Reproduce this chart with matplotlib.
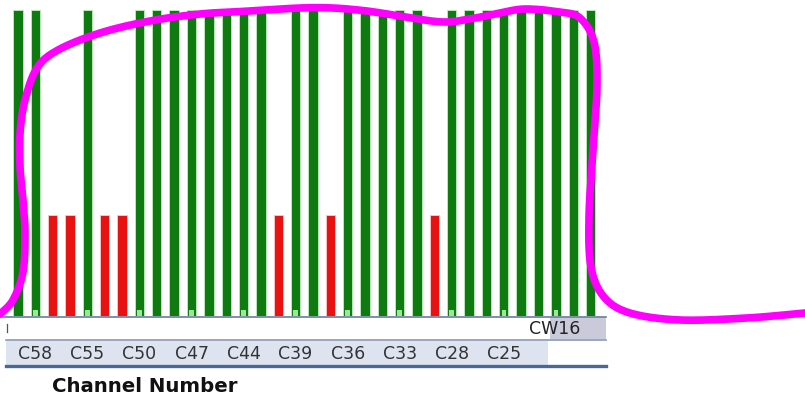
import numpy as np
import matplotlib
matplotlib.use("Agg")
import matplotlib.pyplot as plt
from matplotlib.patches import Rectangle

# Per-channel signal level (100 = locked, 33 = weak), left to right
signal = [100, 100, 33, 33, 100, 33, 33, 100, 100, 100, 100, 100, 100, 100,
          100, 33, 100, 100, 33, 100, 100, 100, 100, 100, 33, 100, 100, 100,
          100, 100, 100, 100, 100, 100]
# Channel names shown under every third bar, starting at the second one
channel_labels = ["C58", "C55", "C50", "C47", "C44", "C39", "C36", "C33", "C28", "C25"]
week_label = "CW16"
axis_title = "Channel Number"

GREEN = "#0f7a0f"
RED = "#e81212"
TICK_GREEN = "#9be69b"

W, H = 805, 398
fig = plt.figure(figsize=(W / 100, H / 100), dpi=100)
fig.patch.set_facecolor("white")

# Bar area (pixel layout: x 0..606, baseline at y=316)
ax = fig.add_axes([0, (H - 316) / H, 606 / W, 316 / H])
x = np.arange(len(signal))
colors = [GREEN if v >= 50 else RED for v in signal]
halo = ["#bfeebf" if v >= 50 else "#ffc8c8" for v in signal]
ax.bar(x, signal, width=0.54, color=colors, edgecolor=halo, linewidth=0.6, zorder=2)

# small light markers at the foot of every third bar
mark_idx = np.arange(1, len(signal), 3)
ax.bar(mark_idx, [1.8] * len(mark_idx), width=0.26, color=TICK_GREEN, zorder=3, linewidth=0)

step = 17.35
ax.set_xlim(-18 / step, (606 - 18) / step)
ax.set_ylim(0, 100 * 316 / 306)
ax.axis("off")

# Overlay in pixel coordinates for the scale bands and the marker loop
ov = fig.add_axes([0, 0, 1, 1], facecolor="none")
ov.set_xlim(0, W)
ov.set_ylim(H, 0)
ov.axis("off")

# baseline
ov.plot([0, 606], [316.5, 316.5], color="#6a7d9c", lw=1.2, zorder=2)
# week band
ov.add_patch(Rectangle((550, 317), 56, 22, facecolor="#c9cbdb", edgecolor="none", zorder=1))
ov.text(555, 329, week_label, ha="center", va="center", fontsize=12.5, color="#222222",
        family="DejaVu Sans", zorder=3)
ov.plot([6.5, 6.5], [324, 332], color="#555555", lw=0.9, zorder=3)
ov.plot([6, 606], [340, 340], color="#8a96b4", lw=1.2, zorder=2)
# channel band
ov.add_patch(Rectangle((6, 341), 542, 24, facecolor="#dde4ef", edgecolor="none", zorder=1))
ov.plot([6, 606], [366, 366], color="#4a6896", lw=2.4, zorder=2)

label_px = 18 + step * np.arange(1, 1 + 3 * len(channel_labels), 3)
for px, lab in zip(label_px, channel_labels):
    ov.text(px, 354, lab, ha="center", va="center", fontsize=12.5, color="#333333",
            family="DejaVu Sans", zorder=3)

ov.text(145, 386, axis_title, ha="center", va="center", fontsize=14.2,
        fontweight="bold", color="#111111", family="DejaVu Sans", zorder=3)

# hand-drawn highlight loop
loop_pts = np.array([
    (805, 313), (747, 318), (680, 320), (630, 313), (604, 297), (591, 267),
    (589, 217), (593, 150), (597, 85), (594, 42), (580, 18), (560, 12),
    (525, 9), (500, 13), (475, 18), (443, 22), (400, 16), (367, 11),
    (333, 8), (300, 8), (250, 11), (200, 14), (150, 21), (100, 33),
    (58, 50), (37, 68), (25, 100), (20, 133), (20, 167), (23, 200),
    (25, 233), (23, 272), (13, 300), (0, 314),
], dtype=float)


def catmull_rom(pts, n=20):
    p = np.vstack([pts[0], pts, pts[-1]])
    out = []
    for i in range(1, len(p) - 2):
        p0, p1, p2, p3 = p[i - 1], p[i], p[i + 1], p[i + 2]
        t = np.linspace(0, 1, n, endpoint=False)[:, None]
        out.append(0.5 * ((2 * p1) + (-p0 + p2) * t
                          + (2 * p0 - 5 * p1 + 4 * p2 - p3) * t ** 2
                          + (-p0 + 3 * p1 - 3 * p2 + p3) * t ** 3))
    out.append(pts[-1][None, :])
    return np.vstack(out)


curve = catmull_rom(loop_pts)
ov.plot(curve[:, 0], curve[:, 1], color="#ff00ff", lw=5.5,
        solid_capstyle="round", solid_joinstyle="round", zorder=10)

fig.savefig("out.png", dpi=100)
